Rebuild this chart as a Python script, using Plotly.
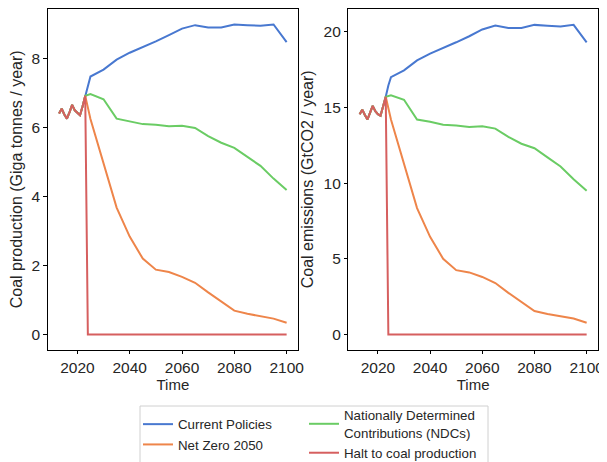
import plotly.graph_objects as go

# ---------------- data ----------------
hist_years = [2013, 2014, 2015, 2016, 2017, 2018, 2019, 2020, 2021, 2022, 2023]
hist_prod = [6.41, 6.55, 6.38, 6.26, 6.45, 6.66, 6.50, 6.42, 6.36, 6.62, 6.92]
hist_emis = [14.55, 14.85, 14.50, 14.20, 14.65, 15.10, 14.75, 14.55, 14.45, 15.05, 15.70]

cp_years = [2024, 2025, 2030, 2035, 2040, 2045, 2050, 2055, 2060, 2065, 2070, 2075, 2080, 2085, 2090, 2095, 2100]
cp_prod = [7.25, 7.48, 7.68, 7.97, 8.17, 8.33, 8.50, 8.68, 8.87, 8.97, 8.90, 8.90, 8.99, 8.97, 8.95, 8.99, 8.48]
cp_emis = [16.45, 17.00, 17.45, 18.10, 18.55, 18.90, 19.30, 19.70, 20.15, 20.40, 20.25, 20.25, 20.45, 20.40, 20.35, 20.45, 19.30]

scen_years = [2025, 2030, 2035, 2040, 2045, 2050, 2055, 2060, 2065, 2070, 2075, 2080, 2085, 2090, 2095, 2100]
nz_prod = [6.25, 4.96, 3.68, 2.84, 2.20, 1.88, 1.81, 1.67, 1.50, 1.22, 0.95, 0.69, 0.60, 0.52, 0.46, 0.34]
nz_emis = [14.20, 11.25, 8.35, 6.45, 5.00, 4.25, 4.10, 3.80, 3.40, 2.75, 2.15, 1.55, 1.35, 1.20, 1.05, 0.77]
ndc_prod = [6.97, 6.82, 6.26, 6.18, 6.10, 6.08, 6.04, 6.05, 5.99, 5.75, 5.56, 5.41, 5.15, 4.89, 4.52, 4.19]
ndc_emis = [15.80, 15.50, 14.20, 14.05, 13.85, 13.80, 13.70, 13.75, 13.60, 13.05, 12.60, 12.30, 11.70, 11.10, 10.25, 9.50]

halt_years = [2024, 2025, 2030, 2035, 2040, 2045, 2050, 2055, 2060, 2065, 2070, 2075, 2080, 2085, 2090, 2095, 2100]
halt_prod = [0.0] * 17
halt_emis = [0.0] * 17

names = ["Current Policies", "Net Zero 2050",
         "Nationally Determined<br>Contributions (NDCs)", "Halt to coal production"]
colors = ["#4878d0", "#ee854a", "#6acc64", "#d65f5f"]

x_ticks = [2020, 2040, 2060, 2080, 2100]
y1_ticks = [0, 2, 4, 6, 8]
y2_ticks = [0, 5, 10, 15, 20]

# ---------------- figure ----------------
FONT = "Liberation Sans, Arial, sans-serif"
OFF = 8                     # page body margin
W, H = 607 - OFF, 462 - OFF


def px(x):
    return (x - OFF) / W


def py(y):
    return 1 - (y - OFF) / H


series = [
    (cp_years, cp_prod, cp_emis),
    (scen_years, nz_prod, nz_emis),
    (scen_years, ndc_prod, ndc_emis),
    (halt_years, halt_prod, halt_emis),
]
legend_ids = ["legend", "legend", "legend2", "legend2"]

fig = go.Figure()
for i, (yrs, prod, emis) in enumerate(series):
    xs = hist_years + yrs
    fig.add_trace(go.Scatter(
        x=xs, y=hist_prod + prod, mode="lines", name=names[i],
        line=dict(color=colors[i], width=2), xaxis="x", yaxis="y",
        legend=legend_ids[i], showlegend=True))
    fig.add_trace(go.Scatter(
        x=xs, y=hist_emis + emis, mode="lines", name=names[i],
        line=dict(color=colors[i], width=2), xaxis="x2", yaxis="y2",
        showlegend=False))

axis_common = dict(showline=True, linecolor="black", linewidth=0.8, mirror=True,
                   ticks="outside", ticklen=3.5, tickwidth=0.8, tickcolor="black",
                   showgrid=False, zeroline=False, automargin=False,
                   tickfont=dict(family=FONT, size=15.5, color="#262626"))

yd = [py(350), min(1.0, py(8.6))]

fig.update_layout(
    width=W, height=H,
    margin=dict(l=0, r=0, t=0, b=0, autoexpand=False),
    paper_bgcolor="white", plot_bgcolor="white",
    font=dict(family=FONT, size=15, color="#262626"),
    xaxis=dict(domain=[px(47.7), px(298)], range=[2008.65, 2104.35],
               tickvals=x_ticks, anchor="y",
               title=dict(text="Time", font=dict(size=15), standoff=2),
               **axis_common),
    yaxis=dict(domain=yd, range=[-0.45, 9.45], tickvals=y1_ticks, anchor="x",
               title=dict(text="Coal production (Giga tonnes / year)", font=dict(size=16), standoff=5),
               **axis_common),
    xaxis2=dict(domain=[px(348.3), px(598)], range=[2008.65, 2104.35],
                tickvals=x_ticks, anchor="y2",
                title=dict(text="Time", font=dict(size=15), standoff=2),
                **axis_common),
    yaxis2=dict(domain=yd, range=[-1.025, 21.525], tickvals=y2_ticks, anchor="x2",
                title=dict(text="Coal emissions (GtCO2 / year)", font=dict(size=16), standoff=5),
                **axis_common),
    legend=dict(x=px(138), y=py(409), xanchor="left", yanchor="top",
                bgcolor="rgba(0,0,0,0)", borderwidth=0,
                font=dict(family=FONT, size=13.3, color="#262626"),
                tracegroupgap=0, itemwidth=30),
    legend2=dict(x=px(304), y=py(400), xanchor="left", yanchor="top",
                 bgcolor="rgba(0,0,0,0)", borderwidth=0,
                 font=dict(family=FONT, size=13.3, color="#262626"),
                 tracegroupgap=0, itemwidth=30),
    shapes=[dict(type="rect", xref="paper", yref="paper",
                 x0=px(140), x1=px(488), y0=-0.03, y1=py(406),
                 line=dict(color="#d0d0d0", width=1), fillcolor="rgba(0,0,0,0)")],
)

fig.write_html("out.html")
